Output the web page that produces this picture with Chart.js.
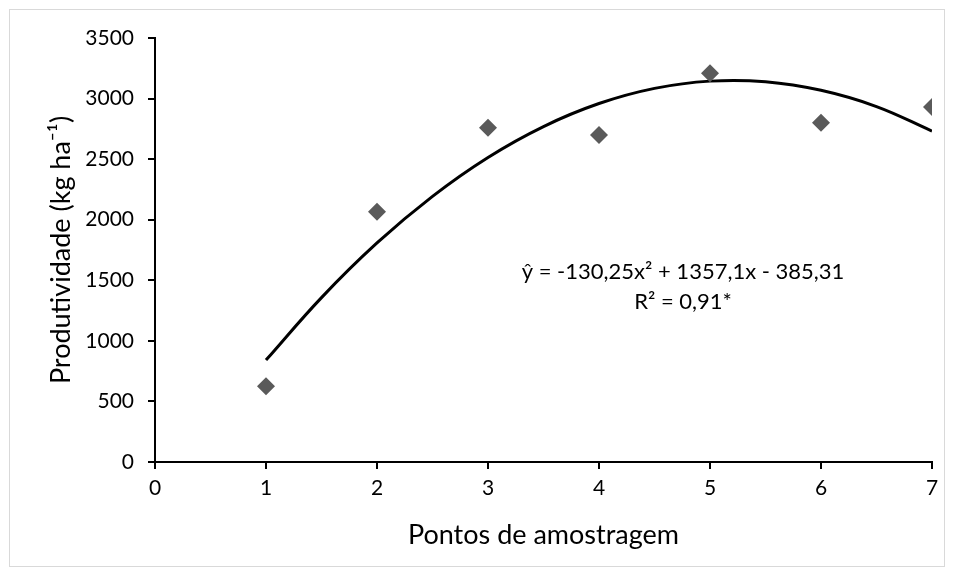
<!DOCTYPE html>
<html>
<head>
<meta charset="utf-8">
<script src="https://cdn.jsdelivr.net/npm/chart.js@4/dist/chart.umd.min.js"></script>
<style>
  html, body { margin: 0; padding: 0; background: #fff; }
  #wrap { position: relative; width: 954px; height: 576px; }
  #frame { position: absolute; left: 9px; top: 9px; width: 934px; height: 556px; border: 1px solid #d9d9d9; pointer-events: none; }
</style>
</head>
<body>
<div id="wrap">
  <canvas id="chart" width="954" height="576"></canvas>
  <div id="frame"></div>
</div>
<script>
// observed points
const pontos = [1, 2, 3, 4, 5, 6, 7];
const produtividade = [625, 2065, 2760, 2700, 3210, 2800, 2930];

// fitted curve
const curvaX = [1, 1.5, 2, 2.5, 3, 3.5, 4, 4.5, 5, 5.5, 6, 6.5, 7];
const curvaY = [841, 1357, 1808, 2193, 2514, 2769, 2959, 3084, 3144, 3139, 3068, 2934, 2732];

const equacao = 'ŷ = -130,25x² + 1357,1x - 385,31';
const r2 = 'R² = 0,91*';

const fontFamily = 'Lato, "Open Sans", sans-serif';

const annotation = {
    id: 'annotation',
    afterDatasetsDraw(chart) {
        const ctx = chart.ctx;
        const x = chart.scales.x, y = chart.scales.y;
        const cx = x.getPixelForValue(4.757);
        ctx.save();
        ctx.fillStyle = '#000';
        ctx.font = '22px ' + fontFamily;
        ctx.textAlign = 'center';
        ctx.textBaseline = 'middle';
        ctx.fillText(equacao, cx, y.getPixelForValue(1568));
        ctx.fillText(r2, cx, y.getPixelForValue(1321));
        ctx.restore();
    }
};

const chart = new Chart(document.getElementById('chart'), {
    type: 'scatter',
    data: {
        datasets: [
            {
                label: 'Curva',
                data: curvaX.map((v, i) => ({ x: v, y: curvaY[i] })),
                showLine: true,
                borderColor: '#000',
                borderWidth: 3,
                pointRadius: 0,
                tension: 0.4,
                order: 2
            },
            {
                label: 'Produtividade',
                data: pontos.map((v, i) => ({ x: v, y: produtividade[i] })),
                pointStyle: 'rectRot',
                pointRadius: 9,
                backgroundColor: '#5a5a5a',
                borderColor: '#5a5a5a',
                borderWidth: 0,
                order: 1
            }
        ]
    },
    options: {
        responsive: false,
        animation: false,
        layout: { padding: { left: 35, top: 38, right: 22, bottom: 14 } },
        plugins: {
            legend: { display: false },
            tooltip: { enabled: false }
        },
        scales: {
            x: {
                type: 'linear',
                min: 0,
                max: 7,
                afterFit: (s) => { s.height = 100; },
                ticks: { stepSize: 1, color: '#000', font: { family: fontFamily, size: 21 }, padding: 7 },
                grid: { drawOnChartArea: false, color: '#000', tickLength: 7, lineWidth: 2 },
                border: { color: '#000', width: 2 },
                title: { display: true, text: 'Pontos de amostragem', color: '#000', font: { family: fontFamily, size: 27 }, padding: { top: 0, bottom: 11 } }
            },
            y: {
                min: 0,
                max: 3500,
                afterFit: (s) => { s.width = 120; },
                ticks: {
                    stepSize: 500,
                    color: '#000',
                    font: { family: fontFamily, size: 21 },
                    padding: 14,
                    callback: (v) => String(v)
                },
                grid: { drawOnChartArea: false, color: '#000', tickLength: 7, lineWidth: 2 },
                border: { color: '#000', width: 2 },
                title: { display: true, text: 'Produtividade (kg ha⁻¹)', color: '#000', font: { family: fontFamily, size: 27 }, padding: { top: 10, bottom: 0 } }
            }
        }
    },
    plugins: [annotation]
});
</script>
</body>
</html>
